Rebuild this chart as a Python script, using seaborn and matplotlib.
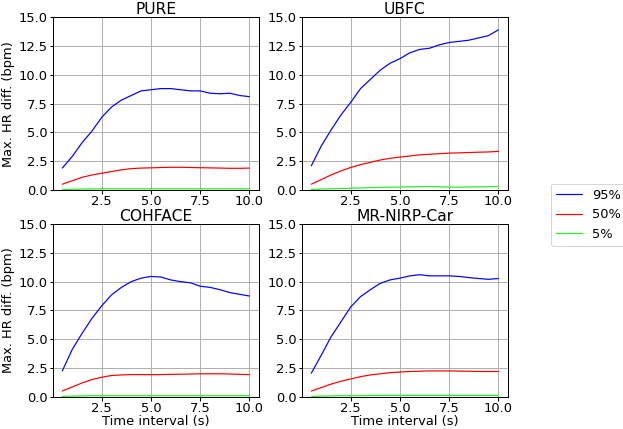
import matplotlib
matplotlib.use("Agg")
import matplotlib.pyplot as plt
import numpy as np
import pandas as pd
import seaborn as sns

# time intervals (s)
intervals = [0.5, 1.0, 1.5, 2.0, 2.5, 3.0, 3.5, 4.0, 4.5, 5.0,
             5.5, 6.0, 6.5, 7.0, 7.5, 8.0, 8.5, 9.0, 9.5, 10.0]

datasets = ["PURE", "UBFC", "COHFACE", "MR-NIRP-Car"]
percentiles = ["95%", "50%", "5%"]

pure_95 = [1.9, 2.9, 4.1, 5.1, 6.3, 7.2, 7.8, 8.2, 8.6, 8.7,
           8.8, 8.8, 8.7, 8.6, 8.6, 8.4, 8.35, 8.4, 8.2, 8.1]
pure_50 = [0.5, 0.8, 1.1, 1.3, 1.45, 1.6, 1.75, 1.85, 1.9, 1.92,
           1.95, 1.97, 1.97, 1.95, 1.93, 1.92, 1.9, 1.88, 1.88, 1.9]
pure_5 = [0.03, 0.06, 0.08, 0.09, 0.1, 0.1, 0.1, 0.1, 0.1, 0.1,
          0.1, 0.1, 0.1, 0.1, 0.1, 0.1, 0.1, 0.1, 0.1, 0.1]

ubfc_95 = [2.1, 3.8, 5.2, 6.5, 7.6, 8.8, 9.6, 10.4, 11.0, 11.4,
           11.9, 12.2, 12.3, 12.6, 12.8, 12.9, 13.0, 13.2, 13.4, 13.9]
ubfc_50 = [0.5, 0.9, 1.3, 1.65, 1.95, 2.2, 2.4, 2.6, 2.75, 2.85,
           2.95, 3.05, 3.1, 3.15, 3.2, 3.22, 3.25, 3.28, 3.3, 3.35]
ubfc_5 = [0.05, 0.08, 0.1, 0.13, 0.15, 0.18, 0.2, 0.22, 0.24, 0.25,
          0.27, 0.28, 0.3, 0.27, 0.25, 0.24, 0.26, 0.27, 0.28, 0.3]

cohface_95 = [2.25, 4.1, 5.5, 6.8, 7.9, 8.85, 9.5, 10.0, 10.3, 10.45,
              10.4, 10.15, 10.0, 9.9, 9.6, 9.5, 9.3, 9.05, 8.9, 8.75]
cohface_50 = [0.5, 0.85, 1.2, 1.5, 1.7, 1.85, 1.9, 1.93, 1.93, 1.92,
              1.93, 1.95, 1.96, 1.98, 2.0, 2.0, 2.0, 1.98, 1.95, 1.93]
cohface_5 = [0.03, 0.06, 0.08, 0.1, 0.1, 0.1, 0.1, 0.1, 0.1, 0.1,
             0.1, 0.1, 0.1, 0.1, 0.1, 0.1, 0.1, 0.1, 0.1, 0.1]

nirp_95 = [2.05, 3.6, 5.2, 6.5, 7.8, 8.7, 9.3, 9.85, 10.15, 10.3,
           10.5, 10.6, 10.5, 10.5, 10.5, 10.45, 10.35, 10.27, 10.2, 10.27]
nirp_50 = [0.5, 0.8, 1.1, 1.35, 1.55, 1.75, 1.9, 2.0, 2.1, 2.15,
           2.2, 2.22, 2.25, 2.25, 2.25, 2.23, 2.22, 2.2, 2.2, 2.2]
nirp_5 = [0.03, 0.06, 0.08, 0.1, 0.1, 0.1, 0.12, 0.12, 0.12, 0.12,
          0.12, 0.12, 0.12, 0.12, 0.12, 0.12, 0.12, 0.12, 0.12, 0.12]

values = {
    "PURE": [pure_95, pure_50, pure_5],
    "UBFC": [ubfc_95, ubfc_50, ubfc_5],
    "COHFACE": [cohface_95, cohface_50, cohface_5],
    "MR-NIRP-Car": [nirp_95, nirp_50, nirp_5],
}

rows = []
for ds in datasets:
    for p, series in zip(percentiles, values[ds]):
        for t, v in zip(intervals, series):
            rows.append({"dataset": ds, "percentile": p, "time": t, "value": v})
data = pd.DataFrame(rows)

sns.set_theme(style="ticks", rc={
    "axes.grid": True,
    "grid.color": "#b0b0b0",
    "grid.linewidth": 1.0,
    "axes.edgecolor": "black",
    "axes.linewidth": 1.0,
    "xtick.color": "black",
    "ytick.color": "black",
    "text.color": "black",
    "axes.labelcolor": "black",
})
plt.rcParams["font.family"] = ["DejaVu Sans"]
plt.rcParams["font.size"] = 13

palette = {"95%": "#0000ff", "50%": "#ff0000", "5%": "#22ee22"}

fig, axes = plt.subplots(2, 2, figsize=(623 / 72, 429 / 72), dpi=72)
fig.subplots_adjust(left=0.085, right=0.815, top=0.96, bottom=0.075,
                    wspace=0.21, hspace=0.197)

for ax, ds in zip(axes.flat, datasets):
    sns.lineplot(data=data[data["dataset"] == ds], x="time", y="value",
                 hue="percentile", hue_order=percentiles, palette=palette,
                 linewidth=1.2, ax=ax, legend=False)
    ax.set_title(ds, fontsize=15.5, pad=2)
    ax.set_ylim(0, 15)
    ax.set_yticks(np.arange(0, 15.1, 2.5))
    ax.set_xticks([2.5, 5.0, 7.5, 10.0])
    ax.set_xlim(0.025, 10.475)
    ax.tick_params(labelsize=13, length=3.5, width=1)
    ax.tick_params(axis="x", pad=1.5)
    ax.tick_params(axis="y", pad=2)
    ax.set_xlabel("")
    ax.set_ylabel("")
    for s in ax.spines.values():
        s.set_visible(True)

axes[0, 0].set_ylabel("Max. HR diff. (bpm)", fontsize=13, labelpad=3)
axes[1, 0].set_ylabel("Max. HR diff. (bpm)", fontsize=13, labelpad=3)
axes[1, 0].set_xlabel("Time interval (s)", fontsize=13, labelpad=0)
axes[1, 1].set_xlabel("Time interval (s)", fontsize=13, labelpad=0)

handles = [plt.Line2D([], [], color=palette[p], lw=1.2) for p in percentiles]
fig.legend(handles, percentiles, loc="upper left",
           bbox_to_anchor=(0.884, 0.572), fontsize=13, frameon=True,
           fancybox=True, edgecolor="#cccccc", borderaxespad=0)

fig.savefig("out.png", dpi=72)
